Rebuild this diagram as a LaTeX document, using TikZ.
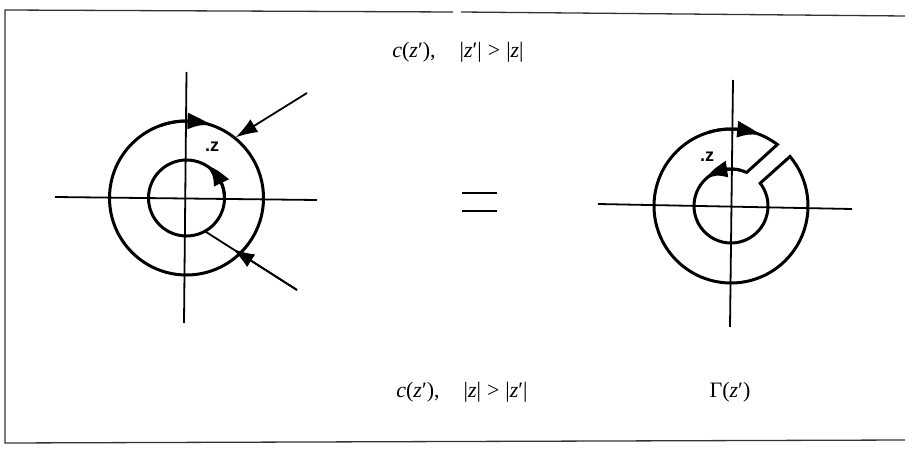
\documentclass[tikz,border=0pt]{standalone}
\usepackage{fontspec}
\setmainfont{Liberation Serif}
\newfontfamily\ptfont{Liberation Sans}
\usetikzlibrary{arrows.meta,calc,bending}
\begin{document}
\begin{tikzpicture}[x=1pt,y=1pt,
  axis/.style={line width=1.8pt},
  ring/.style={line width=3pt},
  framel/.style={line width=1.3pt, draw=black!80},
  tip/.style={-{Latex[length=22pt,width=15pt]}},
  arctip/.style={-{Latex[length=26pt,width=17pt,bend]}},
  lbl/.style={font=\fontsize{22}{24}\selectfont, inner sep=0pt},
  ptlbl/.style={font=\fontsize{18}{20}\selectfont\ptfont\bfseries, inner sep=0pt}]
\useasboundingbox (0,0) rectangle (905,-452);
% frame
\coordinate (F1) at (5,-10);
\coordinate (F2) at (453,-12);
\coordinate (F3) at (461,-12);
\coordinate (F4) at (905,-16);
\coordinate (F5) at (5,-443);
\coordinate (F6) at (905,-440);
\draw[framel] (F2) -- (F1) -- (F5) -- (F6);
\draw[framel] (F3) -- (F4);
% ---------- left diagram ----------
\coordinate (L) at (186.5,-198);
\coordinate (LvT) at (186.5,-72);
\coordinate (LvB) at (184,-323);
\coordinate (LhL) at (55,-197);
\coordinate (LhR) at (317,-200);
\draw[axis] (LvT) -- (LvB);
\draw[axis] (LhL) -- (LhR);
\draw[ring] (L) circle[radius=77];
\draw[ring] (L) circle[radius=38];
\draw[ring,arctip] ($(L)+(110:77)$) arc[start angle=110,end angle=70,radius=77];
\draw[ring,arctip] ($(L)+(0:38)$) arc[start angle=0,end angle=62,radius=38];
\node[ptlbl] (zL) at (212,-147) {.z};
% pointer arrows
\coordinate (A1) at (307,-93);
\coordinate (A1e) at ($(L)+(51:78)$);
\draw[axis,tip] (A1) -- (A1e);
\coordinate (A2) at (297,-290);
\coordinate (A2e) at ($(L)+(-61:38)$);
\draw[axis] (A2) -- (A2e);
\draw[axis,tip] (A2) -- ($(A2)!0.70!(A2e)$);
% ---------- equals ----------
\coordinate (E1) at (462,-193);
\coordinate (E2) at (497,-193);
\coordinate (E3) at (462,-211);
\coordinate (E4) at (497,-211);
\draw[line width=2.2pt] (E1) -- (E2);
\draw[line width=2.2pt] (E3) -- (E4);
% ---------- right diagram ----------
\coordinate (R) at (731,-206);
\coordinate (RvT) at (733,-80);
\coordinate (RvB) at (730,-327);
\coordinate (RhL) at (598,-204);
\coordinate (RhR) at (852,-209);
\draw[axis] (RvT) -- (RvB);
\draw[axis] (RhL) -- (RhR);
\draw[ring] ($(R)+(53:77)$) arc[start angle=53,end angle=400,radius=77]
  -- ($(R)+(38:37)$) arc[start angle=38,end angle=-295,radius=37] -- cycle;
\draw[ring,arctip] ($(R)+(108:77)$) arc[start angle=108,end angle=66,radius=77];
\draw[ring,arctip] ($(R)+(75:37)$) arc[start angle=75,end angle=136,radius=37];
\node[ptlbl] (zR) at (707,-157) {.z};
% ---------- labels ----------
\node[lbl] (t1) at (458,-52) {\textit{c}(\textit{z}′),\hspace{24pt}|\textit{z}′|\hspace{6pt}>\hspace{6pt}|\textit{z}|};
\node[lbl] (t2) at (462,-392) {\textit{c}(\textit{z}′),\hspace{24pt}|\textit{z}|\hspace{6pt}>\hspace{6pt}|\textit{z}′|};
\node[lbl] (t3) at (730,-392) {Γ(\textit{z}′)};
\end{tikzpicture}
\end{document}
